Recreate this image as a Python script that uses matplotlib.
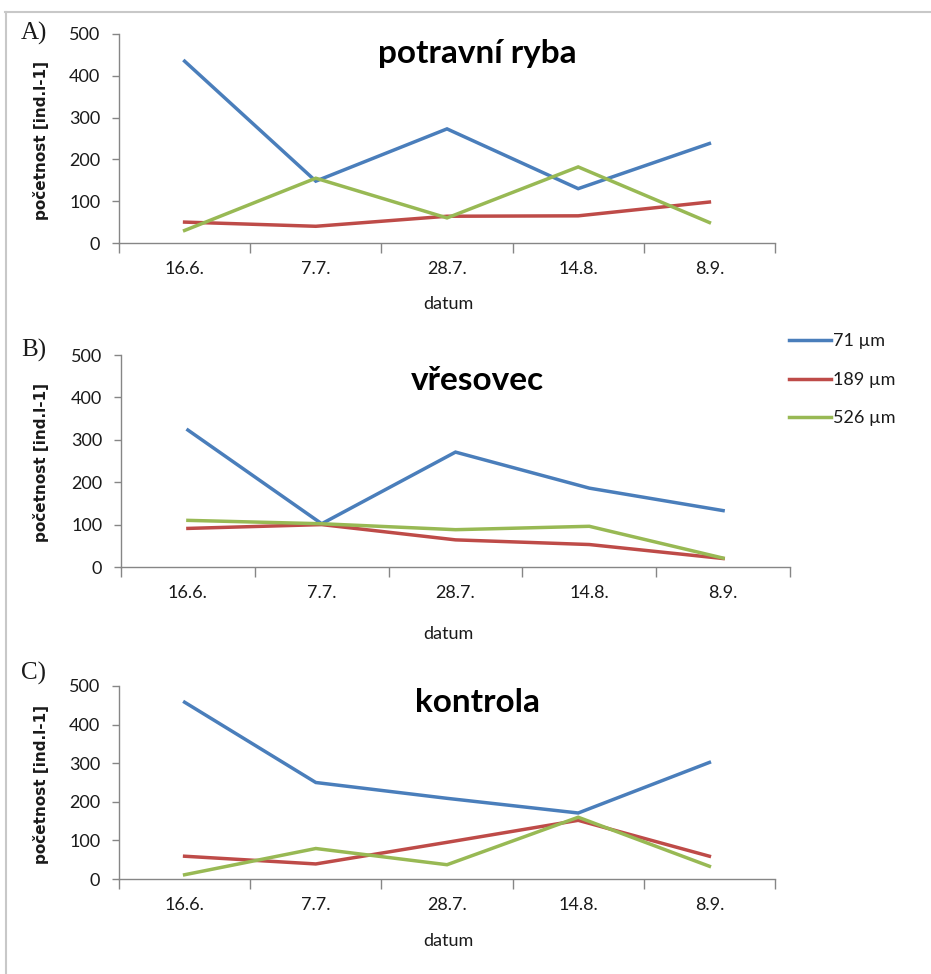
import numpy as np
import matplotlib
matplotlib.use("Agg")
import matplotlib.pyplot as plt
from matplotlib.lines import Line2D

# sampling dates
dates = ["16.6.", "7.7.", "28.7.", "14.8.", "8.9."]
series_names = ["71 µm", "189 µm", "526 µm"]
colors = ["#4A7EBB", "#BE4B48", "#98B954"]

# A) potravni ryba
ryba_71 = [435, 148, 273, 130, 238]
ryba_189 = [50, 40, 64, 65, 98]
ryba_526 = [30, 155, 60, 182, 49]

# B) vresovec
vres_71 = [323, 102, 271, 186, 133]
vres_189 = [91, 100, 64, 53, 20]
vres_526 = [110, 102, 88, 96, 21]

# C) kontrola
kontr_71 = [458, 250, 209, 171, 302]
kontr_189 = [59, 39, 95, 152, 59]
kontr_526 = [11, 79, 37, 160, 33]

W, H = 931, 974
fig = plt.figure(figsize=(W / 100, H / 100), dpi=100)
fig.patch.set_facecolor("white")

# outer frame (top + left edge)
fig.add_artist(Line2D([5 / W, 1], [1 - 12 / H, 1 - 12 / H], color="#c8c8c8", lw=1.5))
fig.add_artist(Line2D([6 / W, 6 / W], [0, 1 - 12 / H], color="#c8c8c8", lw=1.5))

tick_font = "Lato"
txt_col = "#1a1a1a"
panels = [
    # label, title, data, (left, right, top, bottom) px, label y, title y, xlabel y
    ("A)", "potravní ryba", [ryba_71, ryba_189, ryba_526], (119, 775, 34, 243), 33, 53, 304),
    ("B)", "vřesovec", [vres_71, vres_189, vres_526], (121, 790, 355, 567), 350, 380, 634),
    ("C)", "kontrola", [kontr_71, kontr_189, kontr_526], (119, 775, 686, 879), 673, 703, 941),
]

x = np.arange(len(dates))
for lab, title, data, (l, r, t, b), laby, titley, xlaby in panels:
    ax = fig.add_axes([l / W, 1 - b / H, (r - l) / W, (b - t) / H])
    for vals, c, name in zip(data, colors, series_names):
        ax.plot(x, vals, color=c, lw=2.5, label=name, solid_joinstyle="miter")
    ax.set_xlim(-0.5, len(dates) - 0.5)
    ax.set_ylim(0, 500)
    ax.set_yticks(range(0, 501, 100))
    ax.set_xticks(x)
    ax.set_xticklabels(dates, fontsize=13, family=tick_font, color=txt_col)
    ax.set_xticks(np.arange(-0.5, len(dates)), minor=True)
    ax.tick_params(axis="x", which="major", length=0, pad=13)
    ax.tick_params(axis="x", which="minor", length=7, color="#868686", width=1)
    ax.tick_params(axis="y", length=5, color="#868686", width=1, pad=8.5,
                   labelsize=13, labelcolor=txt_col)
    for tl in ax.get_yticklabels():
        tl.set_family(tick_font)
    for s in ["top", "right"]:
        ax.spines[s].set_visible(False)
    for s in ["left", "bottom"]:
        ax.spines[s].set_color("#868686")
        ax.spines[s].set_linewidth(1)
    ax.set_facecolor("none")
    fig.text(41 / W, 1 - ((t + b) / 2 + 2) / H, "početnost [ind.l-1]", rotation=90,
             ha="center", va="center", fontsize=11, family="DejaVu Sans",
             fontweight="bold", color=txt_col)
    fig.text(448 / W, 1 - xlaby / H, "datum", ha="center", va="center",
             fontsize=13, family=tick_font, color=txt_col)
    fig.text(21 / W, 1 - laby / H, lab, ha="left", va="center",
             fontsize=18, family="Liberation Serif", color=txt_col)
    fig.text(477 / W, 1 - titley / H, title, ha="center", va="center",
             fontsize=24, family=tick_font, fontweight="bold", color="black")
    if lab == "B)":
        handles, labels = ax.get_legend_handles_labels()

fig.legend(handles, labels, loc="upper left", bbox_to_anchor=(773 / W, 1 - 317 / H),
           frameon=False, prop={"family": tick_font, "size": 13},
           handlelength=2.3, handletextpad=0.15, labelspacing=1.25,
           labelcolor=txt_col)

fig.savefig("out.png", dpi=100, facecolor="white")
